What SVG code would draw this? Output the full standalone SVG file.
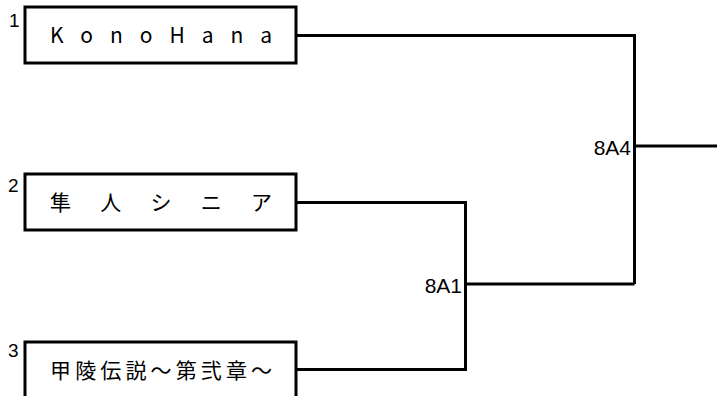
<svg xmlns="http://www.w3.org/2000/svg" width="717" height="396" viewBox="0 0 717 396">
<style>
.box{fill:#fff;stroke:#000;stroke-width:3}
.name{font-family:"Noto Sans CJK JP","Liberation Sans",sans-serif;font-size:21px;fill:#000}
.seed{font-family:"Liberation Sans",Arial,sans-serif;font-size:19px;fill:#000}
.lbl{font-family:"Liberation Sans",Arial,sans-serif;font-size:21px;fill:#000;text-anchor:end}
.wire{fill:none;stroke:#000;stroke-width:3}
</style>
<rect width="717" height="396" fill="#fff"/>
<g id="connectors">
<polyline class="wire" points="296,35.5 634.5,35.5 634.5,284"/>
<polyline class="wire" points="296,202.5 465.5,202.5 465.5,369.5 296,369.5"/>
<line class="wire" x1="465.5" y1="284" x2="634.5" y2="284"/>
<line class="wire" x1="634.5" y1="146" x2="717" y2="146"/>
</g>
<g id="team1">
<rect class="box" x="25" y="7" width="271" height="56"/>
<text class="seed" x="9" y="27">1</text>
<text class="name" x="50" y="43" textLength="222" lengthAdjust="spacing">KonoHana</text>
</g>
<g id="team2">
<rect class="box" x="25" y="174" width="271" height="56"/>
<text class="seed" x="8" y="192">2</text>
<text class="name" x="50" y="210" textLength="222" lengthAdjust="spacing">隼人シニア</text>
</g>
<g id="team3">
<rect class="box" x="25" y="342" width="271" height="60"/>
<text class="seed" x="8" y="357">3</text>
<text class="name" x="50" y="378" textLength="222" lengthAdjust="spacing">甲陵伝説～第弐章～</text>
</g>
<g id="match-8A1">
<text class="lbl" x="462" y="293">8A1</text>
</g>
<g id="match-8A4">
<text class="lbl" x="631" y="155">8A4</text>
</g>
</svg>
